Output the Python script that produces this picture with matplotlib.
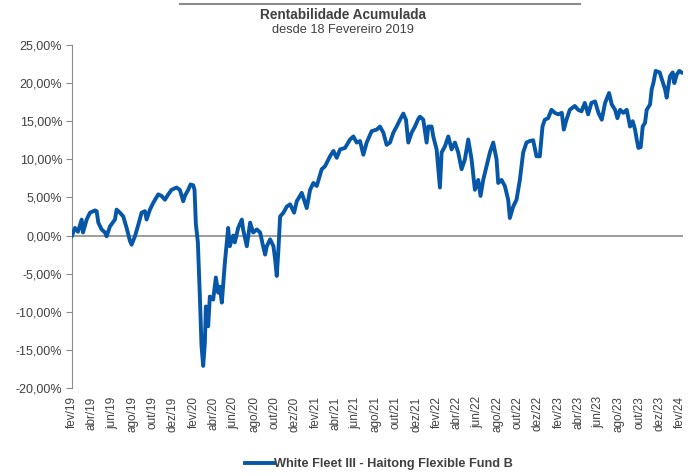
import pandas as pd
import matplotlib
matplotlib.use("Agg")
import matplotlib.pyplot as plt
from matplotlib.lines import Line2D
from matplotlib.ticker import FuncFormatter

plt.rcParams['font.family'] = ['Liberation Sans', 'DejaVu Sans']

# dados (rentabilidade acumulada em %)
datas = [
    "2019-02-18", "2019-02-27", "2019-03-08", "2019-03-19", "2019-03-23", "2019-04-03",
    "2019-04-13", "2019-04-28", "2019-05-03", "2019-05-08", "2019-05-18", "2019-05-28",
    "2019-06-02", "2019-06-12", "2019-06-27", "2019-07-02", "2019-07-12", "2019-07-22",
    "2019-08-01", "2019-08-11", "2019-08-16", "2019-08-26", "2019-09-05", "2019-09-15",
    "2019-09-25", "2019-09-30", "2019-10-10", "2019-10-20", "2019-11-04", "2019-11-14",
    "2019-11-24", "2019-12-04", "2019-12-14", "2019-12-29", "2020-01-08", "2020-01-18",
    "2020-01-23", "2020-02-02", "2020-02-09", "2020-02-17", "2020-02-21", "2020-02-25",
    "2020-03-02", "2020-03-08", "2020-03-13", "2020-03-18", "2020-03-23", "2020-03-26",
    "2020-04-02", "2020-04-07", "2020-04-17", "2020-04-25", "2020-05-02", "2020-05-07",
    "2020-05-13", "2020-05-22", "2020-06-01", "2020-06-06", "2020-06-12", "2020-06-16",
    "2020-06-21", "2020-07-01", "2020-07-12", "2020-07-16", "2020-07-27", "2020-08-06",
    "2020-08-15", "2020-08-26", "2020-09-05", "2020-09-14", "2020-09-20", "2020-09-25",
    "2020-10-05", "2020-10-15", "2020-10-20", "2020-10-25", "2020-10-30", "2020-11-04",
    "2020-11-14", "2020-11-24", "2020-12-04", "2020-12-16", "2020-12-24", "2021-01-08",
    "2021-01-23", "2021-02-02", "2021-02-12", "2021-02-22", "2021-03-09", "2021-03-19",
    "2021-04-03", "2021-04-13", "2021-04-23", "2021-05-03", "2021-05-18", "2021-06-02",
    "2021-06-12", "2021-06-22", "2021-07-02", "2021-07-12", "2021-07-22", "2021-08-06",
    "2021-08-21", "2021-08-31", "2021-09-10", "2021-09-20", "2021-09-30", "2021-10-10",
    "2021-10-20", "2021-10-30", "2021-11-09", "2021-11-17", "2021-11-24", "2021-12-04",
    "2021-12-14", "2021-12-24", "2021-12-29", "2022-01-08", "2022-01-18", "2022-01-23",
    "2022-02-02", "2022-02-07", "2022-02-17", "2022-02-27", "2022-03-04", "2022-03-14",
    "2022-03-24", "2022-04-03", "2022-04-13", "2022-04-23", "2022-05-03", "2022-05-13",
    "2022-05-23", "2022-06-02", "2022-06-12", "2022-06-22", "2022-06-29", "2022-07-07",
    "2022-07-17", "2022-07-27", "2022-08-06", "2022-08-16", "2022-08-21", "2022-08-31",
    "2022-09-10", "2022-09-20", "2022-09-25", "2022-10-05", "2022-10-15", "2022-10-25",
    "2022-11-04", "2022-11-14", "2022-11-24", "2022-12-04", "2022-12-14", "2022-12-24",
    "2023-01-01", "2023-01-08", "2023-01-18", "2023-01-28", "2023-02-07", "2023-02-17",
    "2023-02-28", "2023-03-06", "2023-03-14", "2023-03-24", "2023-04-08", "2023-04-18",
    "2023-04-28", "2023-05-08", "2023-05-18", "2023-05-28", "2023-06-08", "2023-06-18",
    "2023-06-28", "2023-07-08", "2023-07-20", "2023-07-28", "2023-08-07", "2023-08-14",
    "2023-08-22", "2023-09-01", "2023-09-11", "2023-09-21", "2023-09-29", "2023-10-06",
    "2023-10-11", "2023-10-16", "2023-10-23", "2023-10-29", "2023-11-05", "2023-11-10",
    "2023-11-20", "2023-11-25", "2023-11-30", "2023-12-07", "2023-12-19", "2023-12-29",
    "2024-01-04", "2024-01-09", "2024-01-14", "2024-01-19", "2024-01-27", "2024-02-01",
    "2024-02-08", "2024-02-16", "2024-02-23",
]
rentab = [
    0.0, 1.0, 0.5, 2.1, 0.4, 2.1,
    3.0, 3.3, 3.2, 1.7, 0.8, 0.4,
    -0.1, 1.2, 2.1, 3.4, 3.0, 2.5,
    1.0, -0.7, -1.2, -0.1, 1.4, 3.0,
    3.2, 2.1, 3.4, 4.3, 5.4, 5.2,
    4.7, 5.4, 6.0, 6.3, 6.0, 4.5,
    5.2, 6.0, 6.7, 6.6, 6.0, 1.5,
    -0.9, -8.0, -14.5, -17.1, -14.1, -9.3,
    -11.9, -8.0, -8.4, -5.5, -7.5, -6.7,
    -8.8, -3.6, 1.0, -1.4, -0.5, 0.0,
    -0.9, 1.0, 2.1, 0.8, -1.4, 1.7,
    0.4, 0.8, 0.4, -1.4, -2.5, -1.4,
    -0.5, -1.4, -3.1, -5.3, -1.8, 2.5,
    3.0, 3.8, 4.1, 3.0, 4.5, 5.6,
    3.6, 6.0, 6.9, 6.5, 8.7, 9.1,
    10.4, 11.1, 10.2, 11.3, 11.5, 12.6,
    13.0, 12.2, 12.4, 10.6, 12.2, 13.7,
    13.9, 14.3, 13.5, 11.9, 12.2, 13.5,
    14.3, 15.2, 16.0, 15.2, 12.2, 13.5,
    14.3, 15.3, 15.6, 15.2, 12.2, 14.3,
    14.3, 13.0, 11.3, 6.3, 10.9, 11.7,
    13.0, 11.3, 12.2, 10.9, 8.7, 10.0,
    12.6, 10.0, 6.0, 7.3, 5.2, 7.3,
    9.1, 10.9, 12.2, 10.0, 6.9, 7.3,
    6.5, 4.7, 2.3, 3.8, 4.7, 7.3,
    10.9, 12.2, 12.4, 12.5, 10.4, 10.4,
    14.3, 15.2, 15.4, 16.5, 16.1, 15.9,
    16.1, 13.9, 15.2, 16.5, 17.0, 16.5,
    16.3, 17.4, 15.9, 17.4, 17.6, 16.1,
    15.2, 17.4, 18.7, 17.2, 16.5, 15.4,
    16.5, 16.1, 16.5, 14.3, 15.0, 13.9,
    12.6, 11.5, 11.6, 14.3, 14.8, 16.5,
    17.2, 19.2, 20.0, 21.6, 21.4, 20.0,
    19.2, 18.1, 19.6, 20.9, 21.4, 20.0,
    21.1, 21.6, 21.4,
]
meses = ["jan", "fev", "mar", "abr", "mai", "jun", "jul", "ago", "set", "out", "nov", "dez"]
serie_nome = "White Fleet III - Haitong Flexible Fund B"

x = pd.to_datetime(datas)
cor = "#0757A8"
cinza = "#8C8C8C"
texto = "#404040"

fig = plt.figure(figsize=(6.88, 4.76), dpi=100)
ax = fig.add_axes([72 / 688, 1 - 388 / 476, (683 - 72) / 688, (388 - 45) / 476])

ax.plot(x, rentab, color=cor, lw=2.8, solid_joinstyle="round", label=serie_nome, zorder=3)
ax.axhline(0, color=cinza, lw=1.2, zorder=2)

ax.set_ylim(-20, 25)
ax.set_yticks(range(-20, 26, 5))
ax.yaxis.set_major_formatter(FuncFormatter(lambda v, p: f"{v:.2f}%".replace(".", ",")))
ax.set_xlim(pd.Timestamp("2019-02-18"), pd.Timestamp("2024-02-27"))

ticks = pd.date_range("2019-02-18", periods=31, freq=pd.DateOffset(months=2))
ax.set_xticks(ticks)
ax.set_xticklabels([f"{meses[t.month - 1]}/{t.strftime('%y')}" for t in ticks],
                   rotation=90, fontsize=8.5, color=texto)
ax.tick_params(axis="x", length=0, pad=6)
ax.tick_params(axis="y", length=4, color=cinza, labelsize=9, labelcolor=texto, pad=3)

for s in ["top", "right", "bottom"]:
    ax.spines[s].set_visible(False)
ax.spines["left"].set_color(cinza)

fig.text(343 / 688, 1 - 15 / 476, "Rentabilidade Acumulada", ha="center", va="center",
         fontsize=9.8, fontweight="bold", color=texto)
fig.text(343 / 688, 1 - 30 / 476, "desde 18 Fevereiro 2019", ha="center", va="center",
         fontsize=9.2, color=texto)
fig.add_artist(Line2D([180 / 688, 580 / 688], [1 - 4 / 476, 1 - 4 / 476],
                      color=cinza, lw=1.5, transform=fig.transFigure))

leg = fig.legend(loc="center", bbox_to_anchor=(379 / 688, 1 - 464 / 476), frameon=False,
                 handlelength=2.3, handletextpad=0.0, prop={"size": 9.2, "weight": "bold"})
for t in leg.get_texts():
    t.set_color(texto)

fig.savefig("out.png", dpi=100)
